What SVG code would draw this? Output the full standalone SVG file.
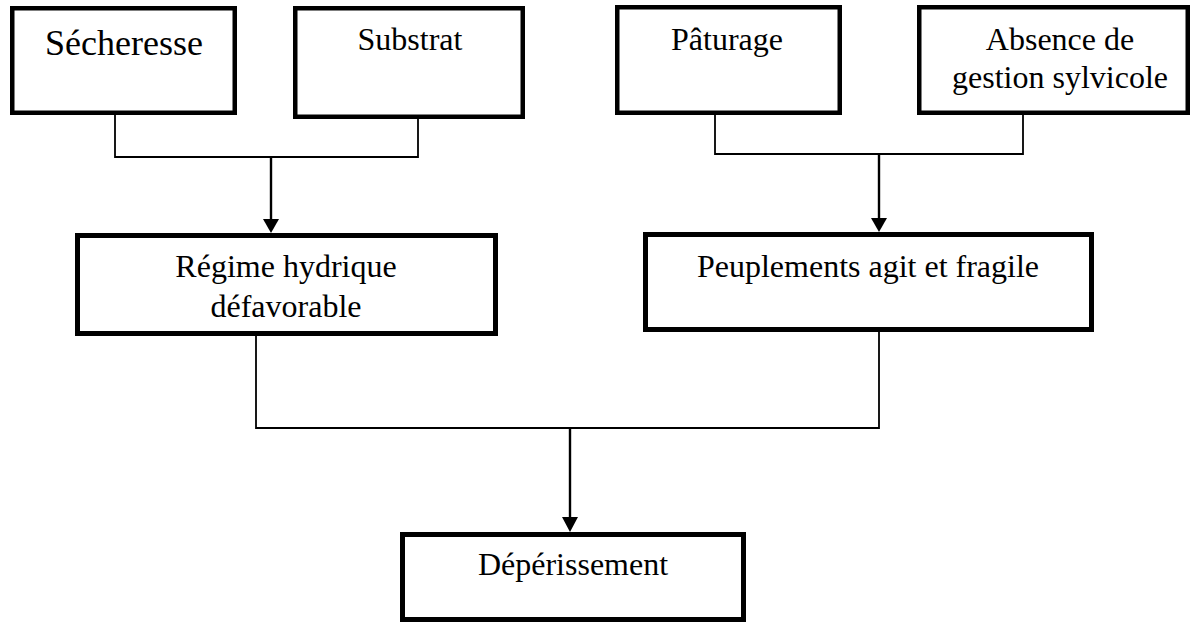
<svg xmlns="http://www.w3.org/2000/svg" width="1192" height="625" viewBox="0 0 1192 625">
<defs>
<style>
.box{fill:#fff;stroke:#000;stroke-width:4.5}
.box2{fill:#fff;stroke:#000;stroke-width:5}
.lbl{font-family:"Liberation Serif","Times New Roman",serif;font-size:32px;fill:#000;text-anchor:middle}
.con{fill:none;stroke:#000;stroke-width:1.8}
.shaft{fill:none;stroke:#000;stroke-width:2.4}
.head{fill:#000}
</style>
</defs>
<rect width="1192" height="625" fill="#fff"/>
<g id="connectors">
<path class="con" d="M115,115 V157 H418 V119"/>
<path class="con" d="M715,115 V154 H1023 V115"/>
<path class="con" d="M256,336 V428 H879 V332"/>
<path class="shaft" d="M271,157 V220"/>
<path class="head" d="M263,219 H279 L271,233 Z"/>
<path class="shaft" d="M879,154 V219"/>
<path class="head" d="M871,218 H887 L879,232 Z"/>
<path class="shaft" d="M570,428 V518"/>
<path class="head" d="M562,517 H578 L570,532 Z"/>
</g>
<g id="secheresse">
<rect class="box" x="12.25" y="8.25" width="222.5" height="104.5"/>
<text class="lbl" x="124" y="55" style="font-size:36px">Sécheresse</text>
</g>
<g id="substrat">
<rect class="box" x="295.25" y="8.25" width="227.5" height="108.5"/>
<text class="lbl" x="410" y="50">Substrat</text>
</g>
<g id="paturage">
<rect class="box" x="617.25" y="7.25" width="222.5" height="105.5"/>
<text class="lbl" x="727" y="50">Pâturage</text>
</g>
<g id="absence">
<rect class="box" x="919.25" y="7.25" width="268.5" height="105.5"/>
<text class="lbl" x="1060" y="50">Absence de</text>
<text class="lbl" x="1060" y="88">gestion sylvicole</text>
</g>
<g id="regime">
<rect class="box2" x="77.5" y="235.5" width="418" height="98"/>
<text class="lbl" x="286" y="277">Régime hydrique</text>
<text class="lbl" x="286" y="317">défavorable</text>
</g>
<g id="peuplements">
<rect class="box2" x="645.5" y="234.5" width="446" height="95"/>
<text class="lbl" x="868" y="277">Peuplements agit et fragile</text>
</g>
<g id="deperissement">
<rect class="box2" x="402.5" y="534.5" width="341" height="85"/>
<text class="lbl" x="573" y="575">Dépérissement</text>
</g>
</svg>
